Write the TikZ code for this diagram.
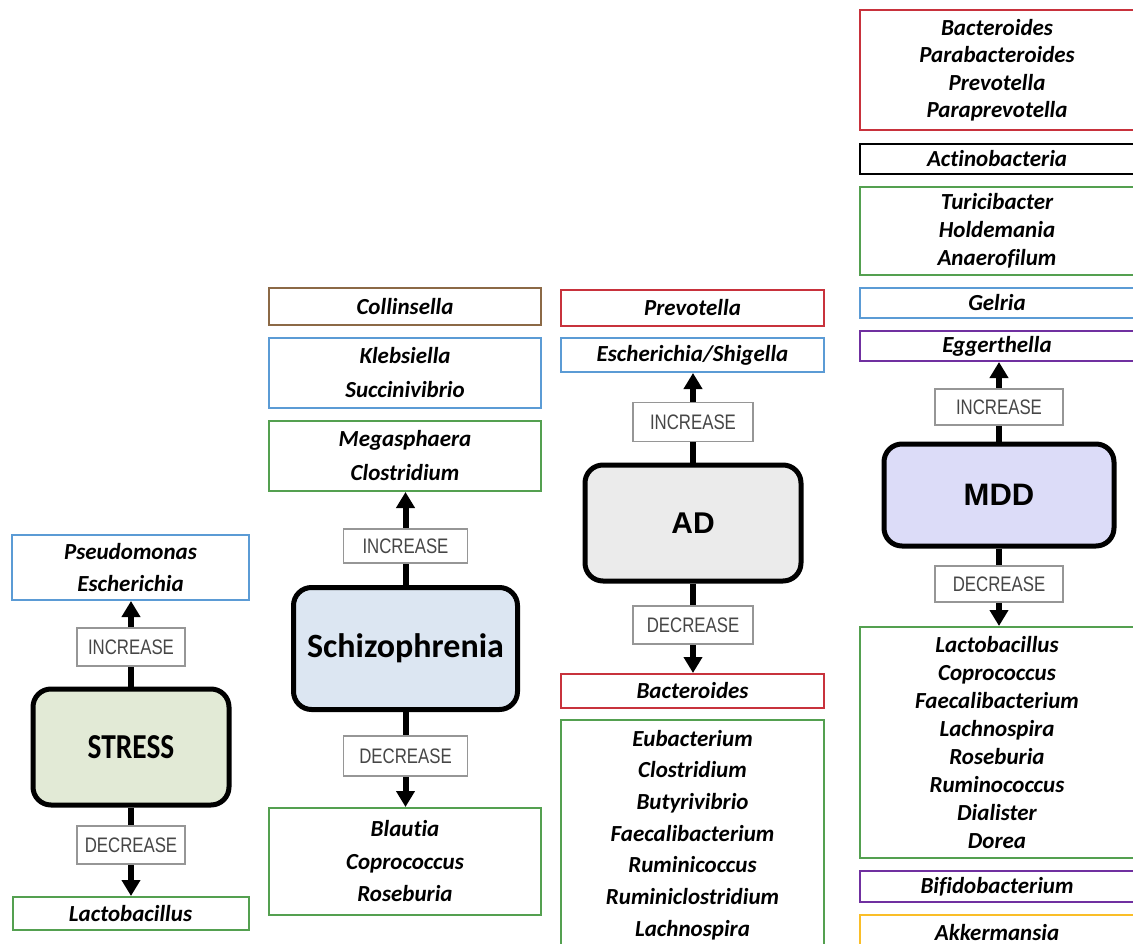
\documentclass[tikz,border=0pt]{standalone}
\usepackage{fontspec}
\setmainfont[Ligatures=NoCommon]{Carlito}
\newfontfamily\lblfont[FakeStretch=0.8]{Liberation Sans}
\newfontfamily\arialfont{Liberation Sans}
\usetikzlibrary{arrows.meta}
\definecolor{boxred}{RGB}{200,50,60}
\definecolor{boxblue}{RGB}{91,155,213}
\definecolor{boxgreen}{RGB}{84,160,80}
\definecolor{boxbrown}{RGB}{140,105,70}
\definecolor{boxpurple}{RGB}{112,48,160}
\definecolor{boxorange}{RGB}{250,190,40}
\definecolor{stressfill}{RGB}{226,234,214}
\definecolor{schizofill}{RGB}{220,230,242}
\definecolor{adfill}{RGB}{235,235,235}
\definecolor{mddfill}{RGB}{220,220,248}
\definecolor{lblgray}{RGB}{150,150,150}
\definecolor{lbltext}{RGB}{70,70,70}
\tikzset{
  genus/.style={draw=#1, line width=2pt, fill=white, inner sep=0pt, align=center,
    font=\fontsize{23}{28}\selectfont\bfseries\itshape},
  lines/.style={font=\fontsize{23}{#1}\selectfont\bfseries\itshape},
  disorder/.style={draw=black, line width=5pt, rounded corners=18pt, fill=#1, inner sep=0pt},
  trend/.style={draw=lblgray, line width=1.2pt, fill=white, inner sep=0pt, text=lbltext,
    font=\lblfont\fontsize{21}{24}\selectfont},
  arr/.style={->, line width=6pt}
}
\begin{document}
\begin{tikzpicture}[x=1pt, y=-1pt, >={Triangle[width=18pt,length=16pt]}]
\useasboundingbox (0,0) rectangle (1133,944);
% stress
\node[genus=boxblue, minimum width=237pt, minimum height=65pt, lines=32] (sUp) at (130.5,567.5) {Pseudomonas\\Escherichia};
\node[disorder=stressfill, minimum width=196pt, minimum height=116pt, font=\fontsize{35}{40}\selectfont\bfseries] (stress) at (131,747) {\scalebox{0.84}[1]{STRESS}};
\node[genus=boxgreen, minimum width=236pt, minimum height=33pt] (sDown) at (130.5,913.5) {Lactobacillus};
\draw[arr] (stress.north) -- (stress.north |- sUp.south);
\draw[arr] (stress.south) -- (stress.south |- sDown.north);
\node[trend, minimum width=108pt, minimum height=38pt] (sInc) at (131,647) {INCREASE};
\node[trend, minimum width=108pt, minimum height=38pt] (sDec) at (131,845) {DECREASE};
% schizophrenia
\node[genus=boxbrown, minimum width=272pt, minimum height=37pt] (zTop) at (405,306.5) {Collinsella};
\node[genus=boxblue, minimum width=272pt, minimum height=70pt, lines=34] (zBlue) at (405,373) {Klebsiella\\Succinivibrio};
\node[genus=boxgreen, minimum width=272pt, minimum height=70pt, lines=34] (zGreen) at (405,456) {Megasphaera\\Clostridium};
\node[disorder=schizofill, minimum width=224pt, minimum height=122pt, font=\fontsize{34}{40}\selectfont\bfseries] (schizo) at (405.5,648.5) {Schizophrenia};
\node[genus=boxgreen, minimum width=272pt, minimum height=107pt, lines=32.5] (zDown) at (405,861.5) {Blautia\\Coprococcus\\Roseburia};
\draw[arr] (schizo.north) -- (schizo.north |- zGreen.south);
\draw[arr] (schizo.south) -- (schizo.south |- zDown.north);
\node[trend, minimum width=124pt, minimum height=34pt] (zInc) at (405.5,546) {INCREASE};
\node[trend, minimum width=124pt, minimum height=40pt] (zDec) at (405.5,756) {DECREASE};
% AD
\node[genus=boxred, minimum width=263pt, minimum height=36pt] (aRed) at (692.5,308) {Prevotella};
\node[genus=boxblue, minimum width=263pt, minimum height=34pt] (aBlue) at (692.5,355) {Escherichia/Shigella};
\node[disorder=adfill, minimum width=216pt, minimum height=116pt, font=\arialfont\fontsize{30}{36}\selectfont\bfseries] (ad) at (693,523) {AD};
\node[genus=boxred, minimum width=263pt, minimum height=34pt] (aRed2) at (692.5,691) {Bacteroides};
\node[genus=boxgreen, minimum width=263pt, minimum height=230pt, lines=31.7] (aGreen) at (692.5,835) {Eubacterium\\Clostridium\\Butyrivibrio\\Faecalibacterium\\Ruminicoccus\\Ruminiclostridium\\Lachnospira};
\draw[arr] (ad.north) -- (ad.north |- aBlue.south);
\draw[arr] (ad.south) -- (ad.south |- aRed2.north);
\node[trend, minimum width=120pt, minimum height=39pt] (aInc) at (693,422) {INCREASE};
\node[trend, minimum width=120pt, minimum height=38pt] (aDec) at (693,625) {DECREASE};
% MDD
\node[genus=boxred, minimum width=274pt, minimum height=120pt, lines=27.5] (mRed) at (997,70) {Bacteroides\\Parabacteroides\\Prevotella\\Paraprevotella};
\node[genus=black, minimum width=274pt, minimum height=30pt] (mBlack) at (997,159) {Actinobacteria};
\node[genus=boxgreen, minimum width=274pt, minimum height=88pt] (mGreen) at (997,231) {Turicibacter\\Holdemania\\Anaerofilum};
\node[genus=boxblue, minimum width=274pt, minimum height=30pt] (mBlue) at (997,303) {Gelria};
\node[genus=boxpurple, minimum width=274pt, minimum height=30pt] (mPurple) at (997,346) {Eggerthella};
\node[disorder=mddfill, minimum width=230pt, minimum height=102pt, font=\arialfont\fontsize{31}{36}\selectfont\bfseries] (mdd) at (999,495) {MDD};
\node[genus=boxgreen, minimum width=274pt, minimum height=231pt] (mGreen2) at (997,742.5) {Lactobacillus\\Coprococcus\\Faecalibacterium\\Lachnospira\\Roseburia\\Ruminococcus\\Dialister\\Dorea};
\node[genus=boxpurple, minimum width=274pt, minimum height=31pt] (mPurple2) at (997,886.5) {Bifidobacterium};
\node[genus=boxorange, minimum width=274pt, minimum height=35pt] (mOrange) at (997,932.5) {Akkermansia};
\draw[arr] (mdd.north) -- (mdd.north |- mPurple.south);
\draw[arr] (mdd.south) -- (mdd.south |- mGreen2.north);
\node[trend, minimum width=128pt, minimum height=36pt] (mInc) at (999,407) {INCREASE};
\node[trend, minimum width=128pt, minimum height=36pt] (mDec) at (999,584) {DECREASE};
\end{tikzpicture}
\end{document}
